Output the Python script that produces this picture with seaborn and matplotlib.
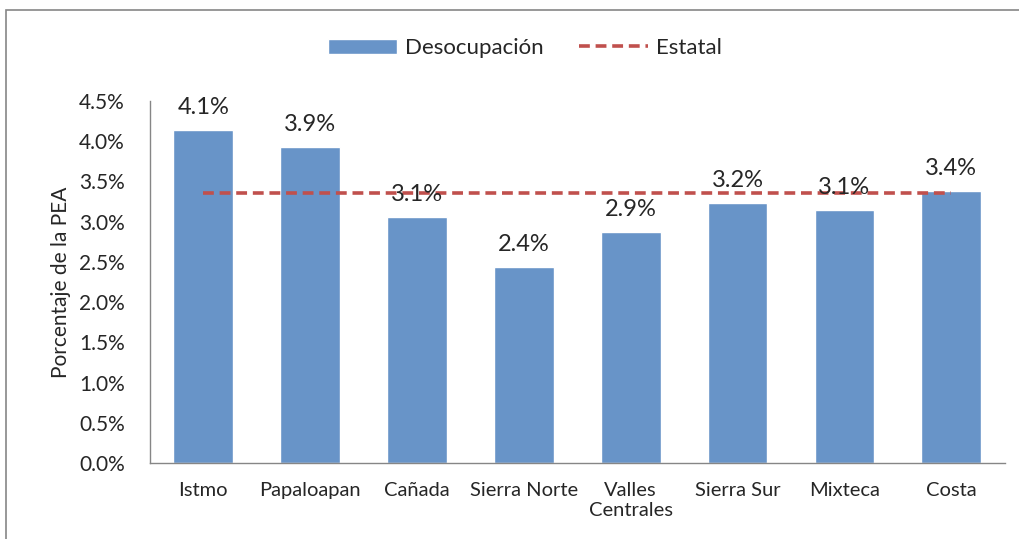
import numpy as np
import pandas as pd
import matplotlib.pyplot as plt
import seaborn as sns
from matplotlib.patches import Rectangle
from matplotlib.ticker import FuncFormatter

# Data
regiones = ['Istmo', 'Papaloapan', 'Cañada', 'Sierra Norte', 'Valles\nCentrales',
            'Sierra Sur', 'Mixteca', 'Costa']
desocupacion = [4.14, 3.92, 3.06, 2.44, 2.87, 3.23, 3.14, 3.38]
estatal = 3.35

df = pd.DataFrame({'region': regiones, 'valor': desocupacion})

sns.set_style('white')
plt.rcParams['font.family'] = ['Lato', 'DejaVu Sans']

fig = plt.figure(figsize=(10.19, 5.39), dpi=100)
ax = fig.add_axes([0.147, 0.141, 0.839, 0.672])

sns.barplot(data=df, x='region', y='valor', color='#6894C8', saturation=1,
            width=0.56, ax=ax, label='Desocupación')
ax.plot([0, len(regiones) - 1], [estatal, estatal], color='#C0504D',
        linestyle=(0, (3, 1.6)), linewidth=2.6, label='Estatal')

# Data labels
for i, v in enumerate(desocupacion):
    ax.text(i, v + 0.15, f'{v:.1f}%', ha='center', va='bottom', fontsize=17)

ax.set_xlim(-0.5, len(regiones) - 0.5)
ax.set_ylim(0, 4.5)
ax.set_yticks(np.arange(0, 4.51, 0.5))
ax.yaxis.set_major_formatter(FuncFormatter(lambda v, p: f'{v:.1f}%'))
ax.tick_params(axis='y', labelsize=15, length=0, pad=18)
ax.tick_params(axis='x', labelsize=14.5, length=0, pad=14)
ax.set_xlabel('')
ax.set_ylabel('Porcentaje de la PEA', fontsize=15, labelpad=6)

for s in ['top', 'right']:
    ax.spines[s].set_visible(False)
for s in ['left', 'bottom']:
    ax.spines[s].set_color('#868686')
    ax.spines[s].set_linewidth(1)

handles, labels = ax.get_legend_handles_labels()
order = [labels.index('Desocupación'), labels.index('Estatal')]
ax.legend([handles[i] for i in order], [labels[i] for i in order],
          loc='center', bbox_to_anchor=(0.439, 1.145), ncol=2, frameon=False,
          fontsize=16, handlelength=3.1, handletextpad=0.35, columnspacing=1.6)

# Chart area border
fig.patches.append(Rectangle((0.006, -0.1), 1.2, 1.081, transform=fig.transFigure,
                             fill=False, edgecolor='#868686', linewidth=1.2))

fig.savefig('out.png', dpi=100)
